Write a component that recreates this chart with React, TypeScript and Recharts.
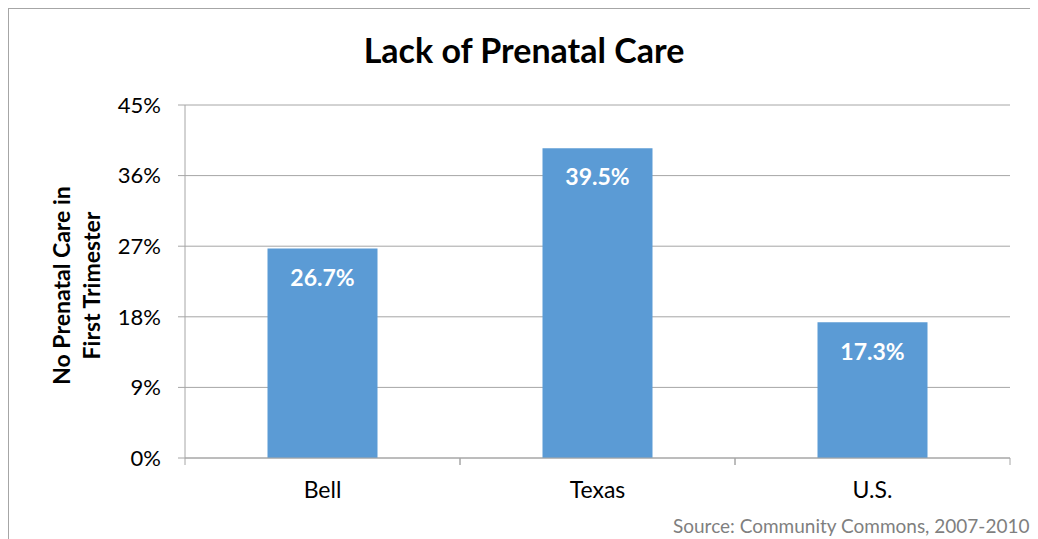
import React from 'react';
import { BarChart, Bar, XAxis, YAxis, CartesianGrid, LabelList } from 'recharts';

// values (percent)
const categories = ['Bell', 'Texas', 'U.S.'];
const noCareFirstTrimester = [26.7, 39.5, 17.3];
const yTicks = [0, 9, 18, 27, 36, 45];

const chartData = categories.map((name, i) => ({ name, value: noCareFirstTrimester[i] }));

const FONT = 'Lato, "Open Sans", sans-serif';
const GRID = '#a6a6a6';
const BAND_HALF = 137.5;

function CategoryTick(props: any) {
  const { x, y, payload } = props;
  return (
    <g>
      <line x1={x - BAND_HALF} x2={x - BAND_HALF} y1={y - 7} y2={y} stroke={GRID} />
      <line x1={x + BAND_HALF} x2={x + BAND_HALF} y1={y - 7} y2={y} stroke={GRID} />
      <text x={x} y={y + 33} textAnchor="middle" fill="#000" fontSize={23} fontFamily={FONT}>
        {payload.value}
      </text>
    </g>
  );
}

function YTitle(props: any) {
  const vb = props.viewBox || {};
  const cy = (vb.y ?? 96) + (vb.height ?? 353) / 2 + 4;
  return (
    <g fontFamily={FONT} fontWeight="bold" fontSize={23} fill="#000" textAnchor="middle">
      <text x={61} y={cy} transform={`rotate(-90 61 ${cy})`}>No Prenatal Care in</text>
      <text x={91} y={cy} transform={`rotate(-90 91 ${cy})`}>First Trimester</text>
    </g>
  );
}

export default function App() {
  return (
    <div
      style={{
        position: 'relative',
        width: 1029,
        height: 530,
        borderLeft: `1px solid ${GRID}`,
        borderTop: `1px solid ${GRID}`,
        overflow: 'hidden',
        background: '#fff',
      }}
    >
      <BarChart
        width={1029}
        height={530}
        data={chartData}
        margin={{ top: 96, right: 28, left: 0, bottom: 41 }}
        barCategoryGap="30%"
      >
        <CartesianGrid vertical={false} stroke={GRID} />
        <XAxis
          dataKey="name"
          height={40}
          axisLine={{ stroke: GRID }}
          tickLine={false}
          tickSize={7}
          tickMargin={0}
          tick={<CategoryTick />}
          interval={0}
        />
        <YAxis
          width={176}
          domain={[0, 45]}
          ticks={yTicks}
          interval={0}
          tickFormatter={(v: number) => `${v}%`}
          axisLine={{ stroke: GRID }}
          tickLine={{ stroke: GRID }}
          tickSize={7}
          tickMargin={17}
          tick={{ fill: '#000', fontSize: 22, fontFamily: FONT }}
          label={{ content: <YTitle /> }}
        />
        <Bar dataKey="value" fill="#5b9bd5" isAnimationActive={false}>
          <LabelList
            dataKey="value"
            position="insideTop"
            offset={21}
            formatter={(v: any) => `${Number(v).toFixed(1)}%`}
            fill="#fff"
            fontSize={23}
            fontWeight="bold"
            fontFamily={FONT}
          />
        </Bar>
      </BarChart>
      <svg
        width={1029}
        height={530}
        style={{ position: 'absolute', left: 0, top: 0, pointerEvents: 'none' }}
      >
        <text x={515} y={54} textAnchor="middle" fontFamily={FONT} fontWeight="bold" fontSize={34} fill="#000">
          Lack of Prenatal Care
        </text>
        <text x={664} y={524} fontFamily={FONT} fontSize={19} fill="#7f7f7f">
          Source: Community Commons, 2007-2010
        </text>
      </svg>
    </div>
  );
}
